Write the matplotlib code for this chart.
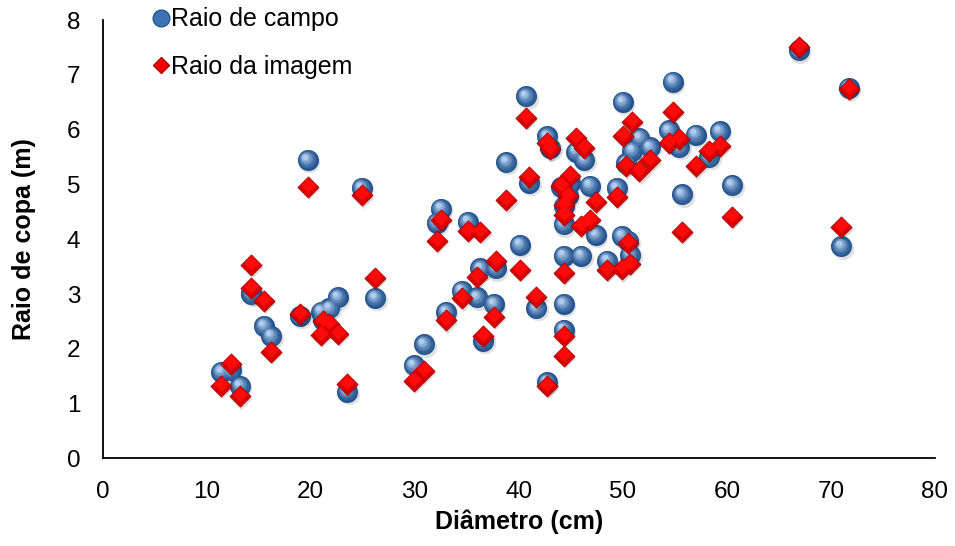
import matplotlib
matplotlib.use("Agg")
import matplotlib.pyplot as plt
import numpy as np
from matplotlib.lines import Line2D
from matplotlib.transforms import ScaledTranslation
from matplotlib.colors import to_rgb

plt.rcParams['font.family'] = ['Liberation Sans', 'DejaVu Sans']

# ---------------------------------------------------------------------------
# data
# ---------------------------------------------------------------------------
diametro = [11.4, 12.3, 13.2, 14.3, 14.3, 15.5, 16.2, 19.0, 19.7, 21.0,
            21.2, 21.8, 22.6, 23.5, 24.9, 26.2, 29.9, 30.9, 32.1, 32.5,
            33.0, 34.5, 35.1, 36.0, 36.3, 36.6, 37.6, 37.8, 38.8, 40.1,
            40.7, 41.0, 41.7, 42.7, 42.7, 43.0, 44.3, 44.3, 44.3, 44.3,
            44.3, 44.7, 44.1, 44.9, 45.5, 46.3, 46.0, 46.8, 47.4, 48.5,
            49.4, 49.9, 50.0, 50.3, 50.5, 50.7, 50.9, 51.6, 52.6, 54.4,
            54.8, 55.4, 55.7, 57.0, 58.3, 59.3, 60.5, 66.9, 71.0, 71.7]

raio_campo = [1.58, 1.61, 1.32, 3.02, 3.00, 2.42, 2.23, 2.60, 5.45, 2.68,
              2.52, 2.74, 2.94, 1.22, 4.94, 2.93, 1.70, 2.08, 4.30, 4.56,
              2.67, 3.06, 4.32, 2.94, 3.47, 2.15, 2.82, 3.47, 5.41, 3.90,
              6.61, 5.03, 2.74, 1.39, 5.88, 5.67, 2.82, 2.35, 3.70, 4.27,
              4.60, 4.79, 4.95, 5.03, 5.60, 5.45, 3.70, 4.98, 4.08, 3.61,
              4.94, 4.06, 6.51, 5.39, 3.97, 3.72, 5.62, 5.85, 5.68, 5.99,
              6.88, 5.68, 4.82, 5.91, 5.50, 5.97, 4.99, 7.45, 3.87, 6.76]

raio_imagem = [1.33, 1.73, 1.13, 3.11, 3.53, 2.88, 1.95, 2.63, 4.96, 2.26,
               2.50, 2.45, 2.27, 1.36, 4.80, 3.30, 1.41, 1.59, 3.97, 4.35,
               2.52, 2.92, 4.15, 3.31, 4.13, 2.23, 2.59, 3.61, 4.71, 3.44,
               6.21, 5.14, 2.94, 1.33, 5.76, 5.64, 1.87, 2.23, 3.39, 4.45,
               4.62, 4.79, 4.97, 5.15, 5.85, 5.67, 4.24, 4.36, 4.68, 3.44,
               4.78, 3.45, 5.89, 5.33, 3.94, 3.55, 6.14, 5.24, 5.44, 5.76,
               6.32, 5.83, 4.13, 5.33, 5.62, 5.71, 4.41, 7.51, 4.23, 6.74]

x_ticks = [0, 10, 20, 30, 40, 50, 60, 70, 80]
y_ticks = [0, 1, 2, 3, 4, 5, 6, 7, 8]


def mix(c1, c2, f):
    a, b = np.array(to_rgb(c1)), np.array(to_rgb(c2))
    return tuple(a + (b - a) * f)


fig = plt.figure(figsize=(9.55, 5.46), dpi=100)
ax = fig.add_axes([0.1075, 0.1605, 0.8715, 0.8025])

# --- field radius: shaded blue spheres ---
shadow = ax.transData + ScaledTranslation(0.015, -0.022, fig.dpi_scale_trans)
ax.scatter(diametro, raio_campo, s=235, color='black', alpha=0.12,
           linewidths=0, transform=shadow, zorder=2)
n = 7
for k in range(n):
    f = k / (n - 1)
    off = ax.transData + ScaledTranslation(-0.027 * f, 0.033 * f, fig.dpi_scale_trans)
    ax.scatter(diametro, raio_campo, s=230 * (1 - 0.75 * f) ** 2,
               color=mix('#24548f', '#b0cdee', f ** 1.3), linewidths=0,
               transform=off, zorder=3 + k * 0.01)

# --- image radius: red diamonds ---
shadow = ax.transData + ScaledTranslation(0.012, -0.022, fig.dpi_scale_trans)
ax.scatter(diametro, raio_imagem, s=115, marker='D', color='black', alpha=0.15,
           linewidths=0, transform=shadow, zorder=4)
ax.scatter(diametro, raio_imagem, s=115, marker='D', color='#d80000',
           edgecolors='#b00000', linewidths=0.6, zorder=5)
top = ax.transData + ScaledTranslation(0, 0.02, fig.dpi_scale_trans)
ax.scatter(diametro, raio_imagem, s=60, marker='D', color='#ff0a0a',
           linewidths=0, transform=top, zorder=6)

ax.set_xlim(x_ticks[0], x_ticks[-1])
ax.set_ylim(y_ticks[0], y_ticks[-1])
ax.set_xticks(x_ticks)
ax.set_yticks(y_ticks)
ax.tick_params(length=0, labelsize=17.5, pad=16)
for side in ['top', 'right']:
    ax.spines[side].set_visible(False)
for side in ['left', 'bottom']:
    ax.spines[side].set_linewidth(1.3)

ax.set_xlabel('Diâmetro (cm)', fontsize=18, fontweight='bold', labelpad=5)
ax.set_ylabel('Raio de copa (m)', fontsize=18, fontweight='bold', labelpad=22)

handles = [
    Line2D([], [], linestyle='none', marker='o', markersize=12,
           markerfacecolor='#3d72b4', markeredgecolor='#24548f'),
    Line2D([], [], linestyle='none', marker='D', markersize=8,
           markerfacecolor='#f00000', markeredgecolor='#b00000'),
]
fig.legend(handles, ['Raio de campo', 'Raio da imagem'], loc='upper left',
           bbox_to_anchor=(0.150, 1.005), frameon=False, fontsize=18,
           handlelength=0.6, handletextpad=0.1, labelspacing=0.95,
           borderaxespad=0)

fig.savefig('out.png', dpi=100)
